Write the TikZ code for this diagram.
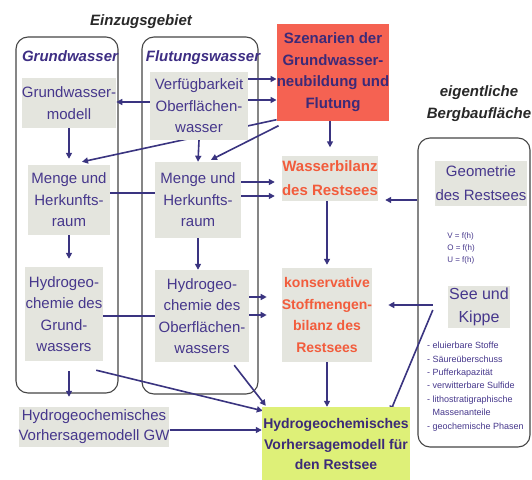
\documentclass[tikz,border=0pt]{standalone}
\usepackage{fontspec}
\setmainfont{Liberation Sans}
\usetikzlibrary{arrows.meta,calc}
\pgfdeclarelayer{bg}
\pgfsetlayers{bg,main}
\definecolor{linecol}{RGB}{58,52,128}
\definecolor{txtblue}{RGB}{70,55,140}
\definecolor{darkpurple}{RGB}{60,42,120}
\definecolor{orangetxt}{RGB}{242,92,60}
\definecolor{redfill}{RGB}{245,98,82}
\definecolor{greenfill}{RGB}{222,240,120}
\definecolor{grayfill}{RGB}{228,229,222}
\definecolor{titlecol}{RGB}{40,40,40}
\definecolor{headcol}{RGB}{62,46,132}
\definecolor{framecol}{RGB}{70,70,70}
\begin{document}
\begin{tikzpicture}[x=1pt,y=-1pt,
  gbox/.style={fill=grayfill, inner sep=0pt, align=center, text=txtblue, font=\fontsize{15}{21.5}\selectfont},
  obox/.style={fill=grayfill, inner sep=0pt, align=center, text=orangetxt},
  frame/.style={draw=framecol, line width=1.1pt, rounded corners=12pt, inner sep=0pt},
  conn/.style={draw=linecol, line width=1.6pt, -{Triangle[length=6pt,width=6pt]}},
  plainline/.style={draw=linecol, line width=1.6pt},
  heading/.style={font=\bfseries\itshape\fontsize{15}{19}\selectfont, inner sep=0pt, align=center}
]
\useasboundingbox (0,0) rectangle (532,479);

% titles
\node[heading, text=titlecol] (t1) at (141,22) {Einzugsgebiet};
\node[heading, text=titlecol, font=\bfseries\itshape\fontsize{15}{22}\selectfont] (t2) at (479,104) {eigentliche\\Bergbaufläche};
\node[heading, text=headcol] (h1) at (70,56) {Grundwasser};
\node[heading, text=headcol] (h2) at (203,58) {Flutungswasser};

% boxes
\node[gbox, minimum width=92pt, minimum height=50pt] (gwm) at (69,103) {Grundwasser-\\modell};
\node[gbox, minimum width=82pt, minimum height=70pt] (mhl) at (69,200) {Menge und\\Herkunfts-\\raum};
\node[gbox, minimum width=78pt, minimum height=94pt] (hgl) at (64,314) {Hydrogeo-\\chemie des\\Grund-\\wassers};
\node[gbox, minimum width=98pt, minimum height=68pt] (vow) at (199,106) {Verfügbarkeit\\Oberflächen-\\wasser};
\node[gbox, minimum width=86pt, minimum height=76pt] (mhm) at (198,200) {Menge und\\Herkunfts-\\raum};
\node[gbox, minimum width=94pt, minimum height=92pt] (hgm) at (202,316) {Hydrogeo-\\chemie des\\Oberflächen-\\wassers};
\node[gbox, minimum width=148pt, minimum height=40pt, font=\fontsize{15}{20}\selectfont] (hvgw) at (94,427) {Hydrogeochemisches\\Vorhersagemodell GW};

\node[fill=redfill, inner sep=0pt, align=center, text=darkpurple, font=\bfseries\fontsize{15}{21.5}\selectfont, minimum width=110pt, minimum height=97pt] (szen) at (333,72) {Szenarien der\\Grundwasser-\\neubildung und\\Flutung};
\node[obox, minimum width=96pt, minimum height=45pt, font=\bfseries\fontsize{15}{24}\selectfont] (wb) at (330,178) {Wasserbilanz\\des Restsees};
\node[obox, minimum width=88pt, minimum height=94pt, font=\bfseries\fontsize{14}{21.5}\selectfont] (ksb) at (327,315) {konservative\\Stoffmengen-\\bilanz des\\Restsees};
\node[fill=greenfill, inner sep=0pt, align=center, text=darkpurple, font=\bfseries\fontsize{14}{20.5}\selectfont, minimum width=148pt, minimum height=74pt] (hvr) at (336,444) {Hydrogeochemisches\\Vorhersagemodell für\\den Restsee};

\node[gbox, minimum width=92pt, minimum height=45pt, font=\fontsize{15}{24}\selectfont] (geo) at (481,183) {Geometrie\\des Restsees};
\node[text=txtblue, align=left, inner sep=0pt, font=\fontsize{8}{12}\selectfont] (form) at (461,248) {V = f(h)\\O = f(h)\\U = f(h)};
\node[gbox, minimum width=62pt, minimum height=42pt, font=\fontsize{16}{23}\selectfont] (see) at (479,307) {See und\\Kippe};
\node[text=txtblue, align=left, inner sep=0pt, anchor=north west, font=\fontsize{9}{13.4}\selectfont] (lst) at (427,342) {- eluierbare Stoffe\\- Säureüberschuss\\- Pufferkapazität\\- verwitterbare Sulfide\\- lithostratigraphische\\\hspace*{5.5pt}Massenanteile\\- geochemische Phasen};

\begin{pgfonlayer}{bg}
\fill[white] (0,0) rectangle (532,479);
\node[frame, minimum width=102pt, minimum height=356pt] (gwf) at (67,215) {};
\node[frame, minimum width=116pt, minimum height=357pt] (fwf) at (200,215.5) {};
\node[frame, minimum width=112pt, minimum height=309pt] (rbox) at (474,292.5) {};

% connectors
\draw[conn] (vow.east |- 0,79) -- (szen.west |- 0,79);
\draw[conn] (vow.east |- 0,100) -- (szen.west |- 0,100);
\draw[conn] ($(szen.south west)+(0,-1)$) -- ($(mhl.north)+(13,-3)$);
\draw[conn] ($(szen.south west)+(2,5)$) -- ($(mhm.north)+(13,-2)$);
\draw[conn] (vow.south) -- (mhm.north);
\draw[conn, shorten >=6pt] (gwm.south) -- (mhl.north);
\draw[conn] (vow.west |- 0,102) -- (gwm.east |- 0,102);
\draw[plainline] (mhm.west |- 0,193) -- (mhl.east |- 0,193);
\draw[conn, shorten >=7pt] (mhm.east |- 0,182) -- (wb.west |- 0,182);
\draw[conn, shorten >=7pt] (mhm.east |- 0,196) -- (wb.west |- 0,196);
\draw[conn, shorten >=8pt] (mhl.south) -- (mhl.south |- hgl.north);
\draw[conn] (mhm.south) -- (mhm.south |- hgm.north);
\draw[conn, shorten >=15pt] (hgm.east |- 0,297) -- (ksb.west |- 0,297);
\draw[conn, shorten >=15pt] (hgm.east |- 0,315) -- (ksb.west |- 0,315);
\draw[plainline] (hgl.east |- 0,316) -- (hgm.west |- 0,316);
\draw[conn] ($(hgl.south east)+(-7,9)$) -- ($(hvr.north west)+(1,4)$);
\draw[conn] ($(hgm.south east)+(-15,3)$) -- ($(hvr.north west)+(4,-1)$);
\draw[conn, shorten <=10pt, shorten >=10pt] (mhl.south |- hgl.south) -- (mhl.south |- hvgw.north);
\draw[conn] (hvgw.east |- 0,430) -- (hvr.west |- 0,430);
\draw[conn, shorten >=8pt] (wb.north |- szen.south) -- (wb.north);
\draw[conn, shorten >=3pt] (ksb.north |- wb.south) -- (ksb.north);
\draw[conn] (ksb.south) -- (ksb.south |- hvr.north);
\draw[conn, shorten >=7pt] (rbox.west |- 0,200) -- (wb.east |- 0,200);
\draw[conn, shorten >=16pt] ($(see.west |- 0,305)+(-15,0)$) -- (ksb.east |- 0,305);
\draw[conn] ($(see.west |- 0,310)+(-15,0)$) -- ($(hvr.north east)+(-20,5)$);
\end{pgfonlayer}
\end{tikzpicture}
\end{document}
